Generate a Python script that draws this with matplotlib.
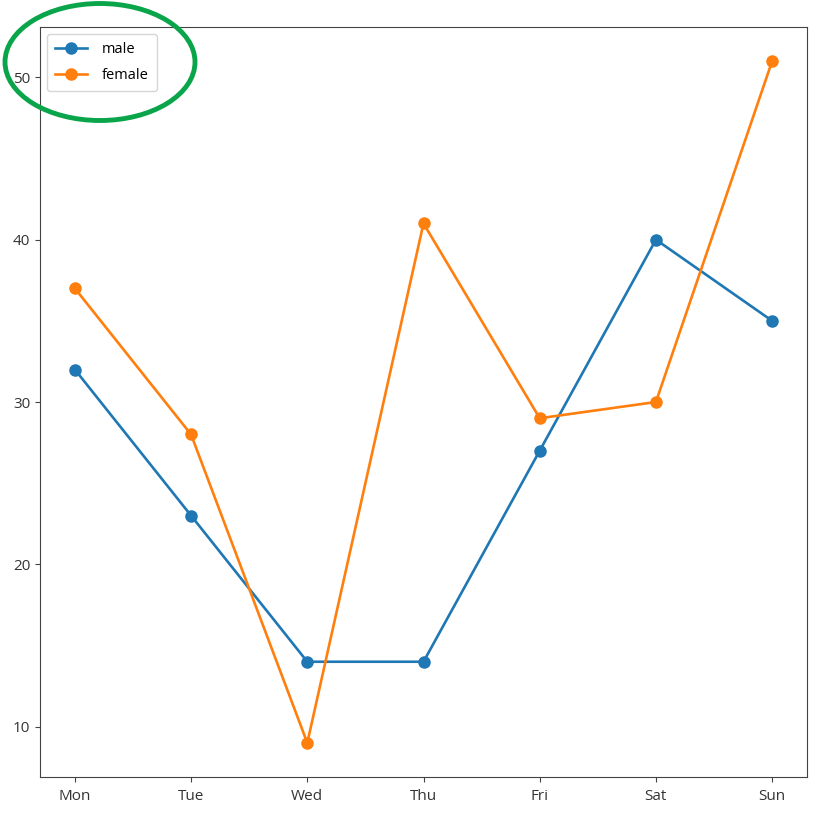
import matplotlib
matplotlib.use('Agg')
import matplotlib.pyplot as plt
from matplotlib.patches import Ellipse

days = ['Mon', 'Tue', 'Wed', 'Thu', 'Fri', 'Sat', 'Sun']
male = [32, 23, 14, 14, 27, 40, 35]
female = [37, 28, 9, 41, 29, 30, 51]

plt.rcParams['font.family'] = ['Open Sans', 'DejaVu Sans']
plt.rcParams['font.size'] = 11
plt.rcParams['axes.edgecolor'] = '#444444'
plt.rcParams['xtick.color'] = '#444444'
plt.rcParams['ytick.color'] = '#444444'
plt.rcParams['xtick.labelcolor'] = '#333333'
plt.rcParams['ytick.labelcolor'] = '#333333'
plt.rcParams['xtick.major.pad'] = 5

fig = plt.figure(figsize=(8.14, 8.13), dpi=100)
ax = fig.add_axes([40/814, 1 - 777/813, 767/814, 750/813])

ax.plot(days, male, marker='o', ms=8, lw=1.9, label='male')
ax.plot(days, female, marker='o', ms=8, lw=1.9, label='female')
ax.set_yticks([10, 20, 30, 40, 50])
ax.legend(loc='upper left', fontsize=10.5, handlelength=2.2, handletextpad=1.0,
          labelspacing=0.75, borderpad=0.55)

# green ellipse round the legend
ring = Ellipse((1.00, (813 - 62) / 100), 1.90, 1.17, transform=fig.dpi_scale_trans,
               fill=False, edgecolor='#0aa54a', lw=3.5)
fig.add_artist(ring)

plt.savefig('out.png', dpi=100)
